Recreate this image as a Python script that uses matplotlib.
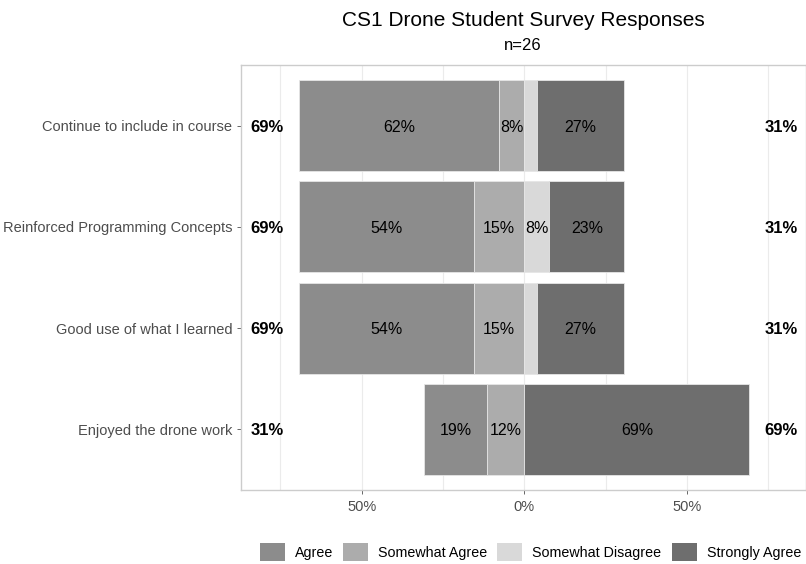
import matplotlib.pyplot as plt
import numpy as np
from matplotlib.patches import Patch

plt.rcParams['font.family'] = ['Liberation Sans', 'DejaVu Sans']

# survey counts, n=26
items = ["Continue to include in course", "Reinforced Programming Concepts",
         "Good use of what I learned", "Enjoyed the drone work"]
n = 26
agree = np.array([16, 14, 14, 5])
somewhat_agree = np.array([2, 4, 4, 3])
somewhat_disagree = np.array([1, 2, 1, 0])
strongly_agree = np.array([7, 6, 7, 18])

categories = ["Agree", "Somewhat Agree", "Somewhat Disagree", "Strongly Agree"]
colors = ["#8c8c8c", "#acacac", "#d9d9d9", "#6e6e6e"]

p_a = agree / n * 100
p_sa = somewhat_agree / n * 100
p_sd = somewhat_disagree / n * 100
p_st = strongly_agree / n * 100

fig = plt.figure(figsize=(8.06, 5.64), dpi=100)
ax = fig.add_axes([0.2995, 0.131, 0.7, 0.754])

y = np.arange(len(items))[::-1]
h = 0.9
edge = dict(edgecolor="#e6e6e6", linewidth=0.6, zorder=3)

# left side (drawn negative)
ax.barh(y, -p_sa, height=h, color=colors[1], **edge)
ax.barh(y, -p_a, left=-p_sa, height=h, color=colors[0], **edge)
# right side
ax.barh(y, p_sd, height=h, color=colors[2], **edge)
ax.barh(y, p_st, left=p_sd, height=h, color=colors[3], **edge)

def lab(xc, yc, v):
    if v >= 5:
        ax.text(xc, yc, "%d%%" % round(v), ha="center", va="center_baseline",
                fontsize=11.5, zorder=4)

for i in range(len(items)):
    lab(-p_sa[i] - p_a[i] / 2, y[i], p_a[i])
    lab(-p_sa[i] / 2, y[i], p_sa[i])
    lab(p_sd[i] / 2, y[i], p_sd[i])
    lab(p_sd[i] + p_st[i] / 2, y[i], p_st[i])
    left_tot = p_a[i] + p_sa[i]
    right_tot = p_sd[i] + p_st[i]
    ax.text(-79, y[i], "%d%%" % round(left_tot), ha="center", va="center_baseline",
            fontsize=12, fontweight="bold")
    ax.text(79, y[i], "%d%%" % round(right_tot), ha="center", va="center_baseline",
            fontsize=12, fontweight="bold")

ax.set_xlim(-87, 86.5)
ax.set_ylim(-0.6, 3.6)
ax.set_xticks([-50, 0, 50])
ax.set_xticklabels(["50%", "0%", "50%"])
ax.set_xticks([-75, -25, 25, 75], minor=True)
ax.set_yticks(y)
ax.set_yticklabels(items)
ax.grid(True, which="both", axis="x", color="#ebebeb", linewidth=0.8, zorder=0)
ax.set_axisbelow(True)
ax.tick_params(axis="both", which="major", colors="#4d4d4d", labelsize=10.5,
               length=3, width=0.6)
ax.tick_params(axis="x", which="minor", length=0)
ax.tick_params(axis="x", pad=4)
for s in ax.spines.values():
    s.set_color("#cccccc")
    s.set_linewidth(1)

fig.text(0.649, 0.963, "CS1 Drone Student Survey Responses", ha="center", va="center", fontsize=15)
fig.text(0.649, 0.919, "n=26", ha="center", va="center", fontsize=12)

handles = [Patch(facecolor=c, edgecolor="none") for c in colors]
fig.legend(handles, categories, loc="center", bbox_to_anchor=(0.658, 0.021), ncol=4,
           frameon=False, fontsize=10.3, handlelength=1.75, handleheight=1.55,
           columnspacing=0.7, handletextpad=0.7, borderpad=0, borderaxespad=0)

fig.savefig("out.png", dpi=100)
